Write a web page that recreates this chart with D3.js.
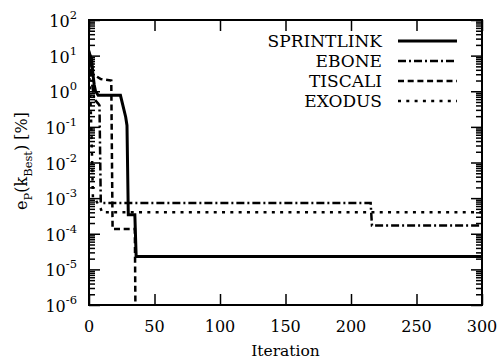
<!DOCTYPE html>
<html>
<head>
<meta charset="utf-8">
<script src="https://cdn.jsdelivr.net/npm/d3@7"></script>
<style>
  body { margin: 0; background: #fff; }
</style>
</head>
<body>
<svg id="chart" width="501" height="364"></svg>
<script>
// tick values
var iterTicks = [0, 50, 100, 150, 200, 250, 300];
var decades = [-6, -5, -4, -3, -2, -1, 0, 1, 2];

// series: [iteration, error in %]
var sprintlink = [[0,6],[1,10],[2,8],[3,3],[4,1.5],[5,1.0],[7,0.77],[24,0.77],[26,0.38],
                  [28,0.19],[29,0.11],[30,3.4e-4],[35,3.4e-4],[36,2.3e-5],[300,2.3e-5]];
var ebone      = [[0,12],[1,5],[2,2],[4,0.6],[7,0.45],[8,0.4],[9,7.3e-4],[215,7.3e-4],
                  [216,1.7e-4],[300,1.7e-4]];
var tiscali    = [[0,14],[1,6],[3,3],[9,2.2],[17,2.0],[18,1.35e-4],[35,1.35e-4],[36,1e-9]];
var exodus     = [[0,4],[1,0.8],[2,0.05],[3,1e-3],[5,9e-4],[9,5e-4],[10,4e-4],[300,4e-4]];

var series = [
  {name: "SPRINTLINK", values: sprintlink, dash: null,          width: 3},
  {name: "EBONE",      values: ebone,      dash: "8,3,2,3",     width: 2.5},
  {name: "TISCALI",    values: tiscali,    dash: "6,3.7",       width: 2.5},
  {name: "EXODUS",     values: exodus,     dash: "3,5.3",       width: 2.5}
];

// only serif face that is really there
var serif = "DejaVu Serif";
var margin = {top: 20, right: 19, bottom: 59, left: 89};
var width = 501, height = 364;
var innerWidth = width - margin.left - margin.right;
var innerHeight = height - margin.top - margin.bottom;

var svg = d3.select("#chart");
var g = svg.append("g")
    .attr("transform", "translate(" + margin.left + "," + margin.top + ")");

var xScale = d3.scaleLinear().domain([0, 300]).range([0, innerWidth]);
var yScale = d3.scaleLog().domain([1e-6, 1e2]).range([innerHeight, 0]);

// minor tick values: 2..9 in each decade
var minors = [];
decades.slice(0, -1).forEach(function(e){
  for (var m = 2; m <= 9; m++) minors.push(m * Math.pow(10, e));
});
var majors = decades.map(function(e){ return Math.pow(10, e); });

function tickStyle(sel) {
  sel.select(".domain").remove();
  sel.selectAll("line").attr("stroke", "#000").attr("stroke-width", 1.5);
  sel.selectAll("text").remove();
}

// y ticks, left and right
g.append("g").call(d3.axisRight(yScale).tickValues(majors).tickSize(11)).call(tickStyle);
g.append("g").call(d3.axisRight(yScale).tickValues(minors).tickSize(6)).call(tickStyle);
g.append("g").attr("transform", "translate(" + innerWidth + ",0)")
  .call(d3.axisLeft(yScale).tickValues(majors).tickSize(11)).call(tickStyle);
g.append("g").attr("transform", "translate(" + innerWidth + ",0)")
  .call(d3.axisLeft(yScale).tickValues(minors).tickSize(6)).call(tickStyle);

// x ticks, bottom and top
g.append("g").attr("transform", "translate(0," + innerHeight + ")")
  .call(d3.axisTop(xScale).tickValues(iterTicks).tickSize(11)).call(tickStyle);
g.append("g")
  .call(d3.axisBottom(xScale).tickValues(iterTicks).tickSize(11)).call(tickStyle);

var labels = g.append("g").attr("font-family", serif);

// y tick labels 10^n
var yl = labels.append("g").selectAll("text")
  .data(decades).enter()
  .append("text")
    .attr("x", -12)
    .attr("y", function(d){ return yScale(Math.pow(10, d)) + 7; })
    .attr("text-anchor", "end")
    .attr("font-size", 16);
yl.append("tspan").text("10");
yl.append("tspan")
  .attr("dy", -8)
  .attr("font-size", 11.5)
  .text(function(d){ return d < 0 ? "-" + (-d) : d; });

// x tick labels
labels.append("g").selectAll("text")
  .data(iterTicks).enter()
  .append("text")
    .attr("x", function(d){ return xScale(d); })
    .attr("y", innerHeight + 27)
    .attr("text-anchor", "middle")
    .attr("font-size", 16)
    .text(function(d){ return d; });

// axis titles
labels.append("text")
  .attr("x", innerWidth / 2)
  .attr("y", innerHeight + 51)
  .attr("text-anchor", "middle")
  .attr("font-size", 15.5)
  .text("Iteration");

var yt = labels.append("text")
  .attr("transform", "translate(" + (27 - margin.left) + ",141) rotate(-90)")
  .attr("text-anchor", "middle")
  .attr("font-size", 16);
yt.append("tspan").text("e");
yt.append("tspan").attr("dy", 5).attr("font-size", 11.5).text("P");
yt.append("tspan").attr("dy", -5).text("(k");
yt.append("tspan").attr("dy", 5).attr("font-size", 11.5).text("Best");
yt.append("tspan").attr("dy", -5).text(") [%]");

// lines
svg.append("defs").append("clipPath").attr("id", "plotclip")
  .append("rect").attr("width", innerWidth).attr("height", innerHeight);

var line = d3.line()
  .x(function(d){ return xScale(d[0]); })
  .y(function(d){ return yScale(d[1]); });

g.append("g").attr("clip-path", "url(#plotclip)")
  .selectAll("path")
  .data(series).enter()
  .append("path")
    .attr("fill", "none")
    .attr("stroke", "#000")
    .attr("stroke-width", function(d){ return d.width; })
    .attr("stroke-dasharray", function(d){ return d.dash; })
    .attr("d", function(d){ return line(d.values); });

// frame
g.append("rect")
  .attr("width", innerWidth).attr("height", innerHeight)
  .attr("fill", "none").attr("stroke", "#000").attr("stroke-width", 2);

// legend
var legend = g.append("g").selectAll("g")
  .data(series).enter()
  .append("g")
    .attr("transform", function(d, i){ return "translate(0," + (21 + i * 20) + ")"; });

legend.append("text")
  .attr("x", 293)
  .attr("y", 6)
  .attr("text-anchor", "end")
  .attr("font-family", serif)
  .attr("font-size", 17)
  .text(function(d){ return d.name; });

legend.append("line")
  .attr("x1", 309).attr("x2", 368)
  .attr("stroke", "#000")
  .attr("stroke-width", function(d){ return d.width; })
  .attr("stroke-dasharray", function(d){ return d.dash; });
</script>
</body>
</html>
